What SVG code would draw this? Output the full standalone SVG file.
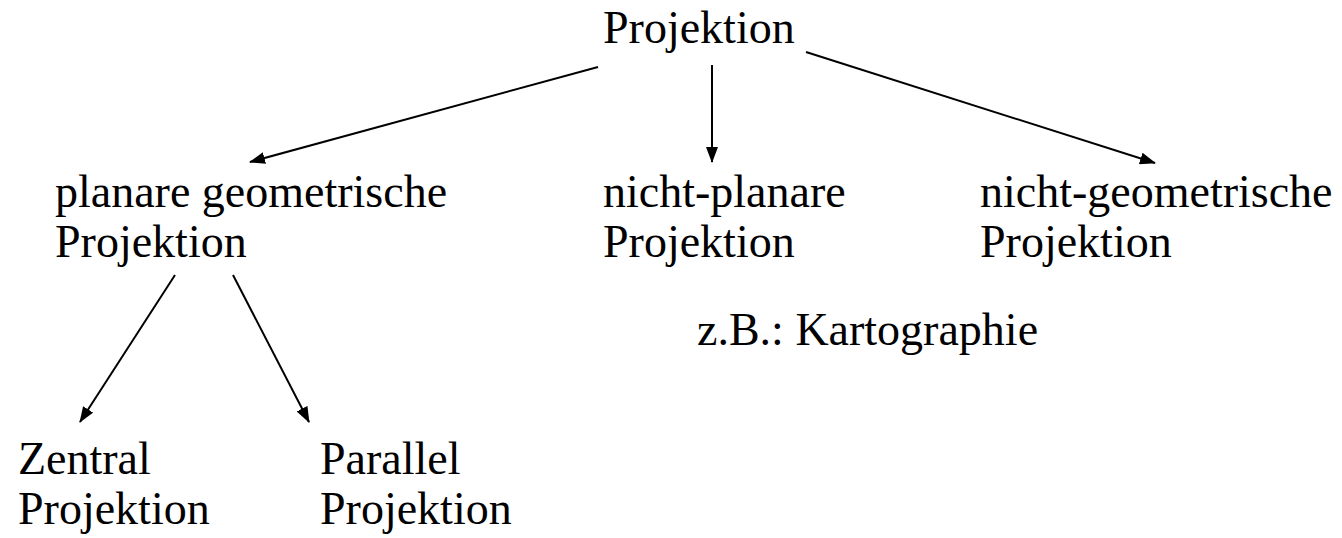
<svg xmlns="http://www.w3.org/2000/svg" width="1342" height="538" viewBox="0 0 1342 538">
<style>
text{font-family:"Liberation Serif","DejaVu Serif",serif;font-size:46px;fill:#000}
.c line{stroke:#000;stroke-width:2;fill:none}
</style>
<defs>
<marker id="ah" viewBox="0 0 10 10" refX="10" refY="5" markerWidth="7" markerHeight="7" markerUnits="userSpaceOnUse" orient="auto" style="overflow:visible">
<path d="M0,0 L10,5 L0,10 Z" fill="#000" transform="scale(1.6)"/>
</marker>
<marker id="a" markerWidth="16" markerHeight="12" refX="15" refY="6" orient="auto" markerUnits="userSpaceOnUse">
<path d="M0,0 L16,6 L0,12 Z" fill="#000"/>
</marker>
</defs>
<rect width="1342" height="538" fill="#fff"/>
<g class="c" id="connectors">
<line x1="598" y1="67" x2="250" y2="162" marker-end="url(#a)"/>
<line x1="712" y1="65" x2="712" y2="162" marker-end="url(#a)"/>
<line x1="806" y1="52" x2="1155" y2="163" marker-end="url(#a)"/>
<line x1="175" y1="275" x2="80" y2="422" marker-end="url(#a)"/>
<line x1="233" y1="275" x2="309" y2="422" marker-end="url(#a)"/>
</g>
<g id="root"><text x="603" y="43">Projektion</text></g>
<g id="planar"><text x="55" y="207">planare geometrische</text><text x="55" y="257">Projektion</text></g>
<g id="nichtplanar"><text x="603" y="207">nicht-planare</text><text x="603" y="257">Projektion</text></g>
<g id="nichtgeo"><text x="980" y="207">nicht-geometrische</text><text x="980" y="257">Projektion</text></g>
<g id="note"><text x="697" y="345">z.B.: Kartographie</text></g>
<g id="zentral"><text x="18" y="474">Zentral</text><text x="18" y="524">Projektion</text></g>
<g id="parallel"><text x="320" y="474">Parallel</text><text x="320" y="524">Projektion</text></g>
</svg>
